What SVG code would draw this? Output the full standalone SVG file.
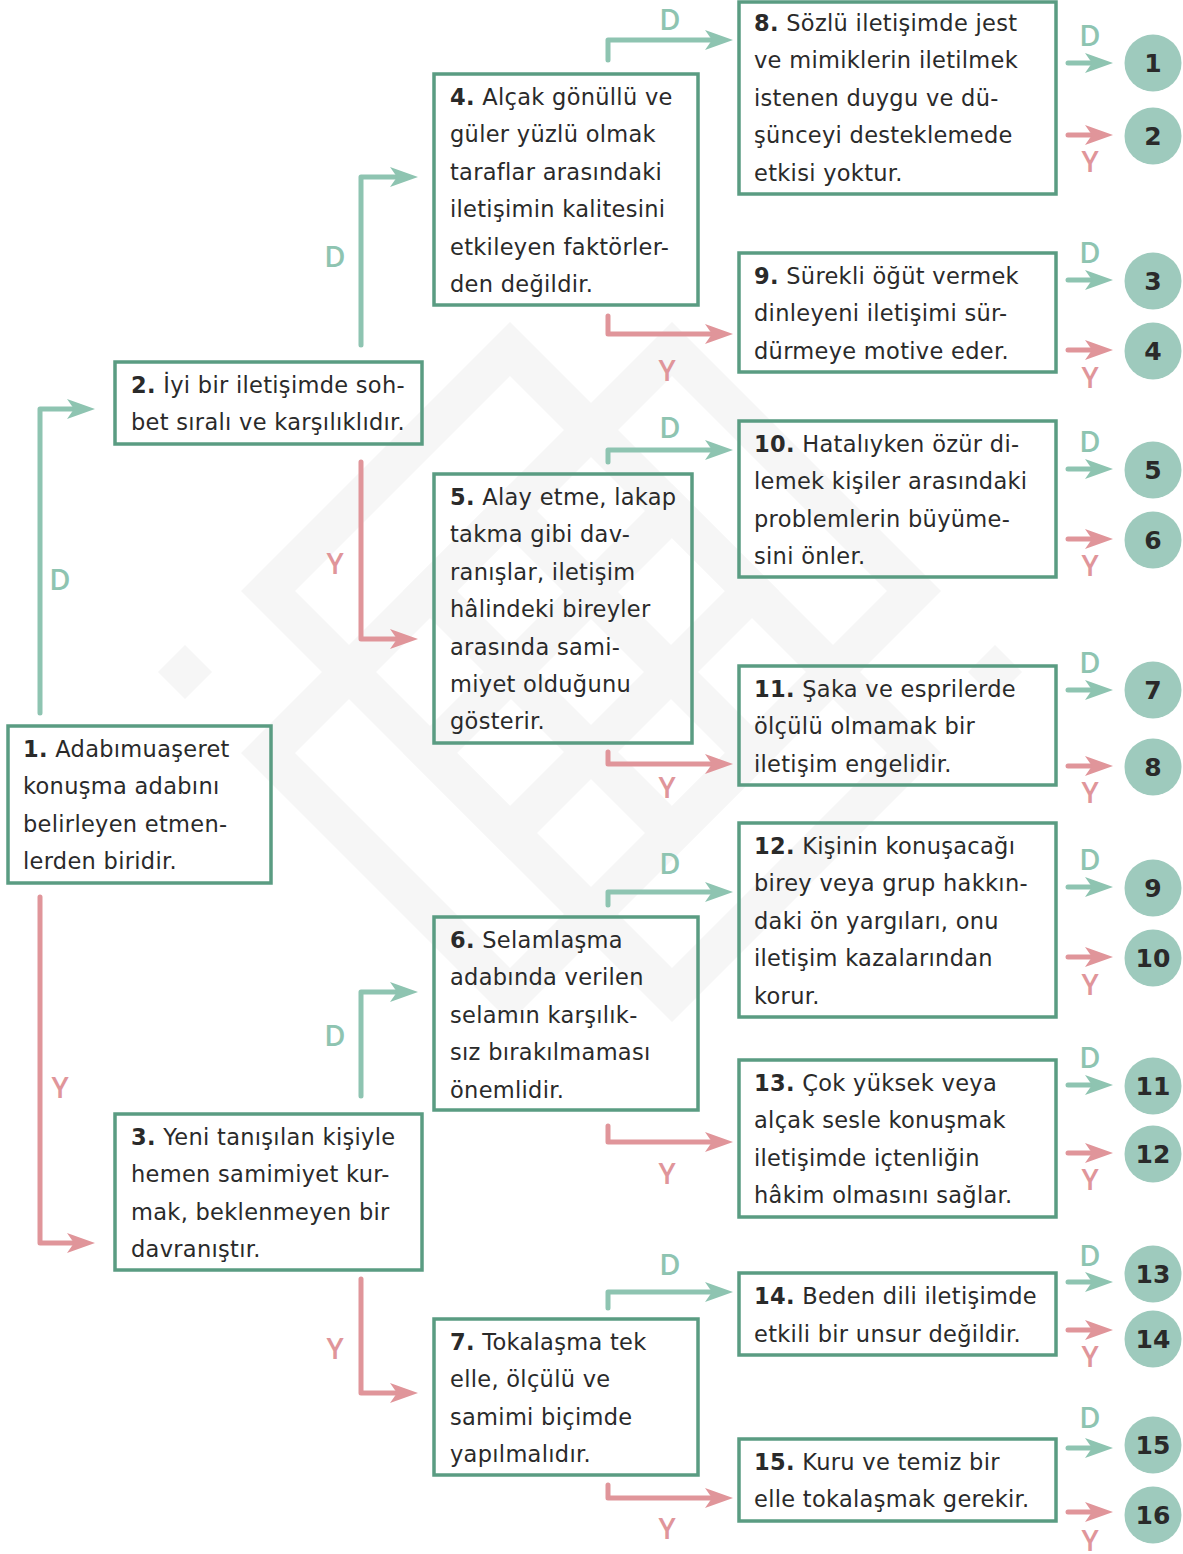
<svg xmlns="http://www.w3.org/2000/svg" width="1183" height="1554" viewBox="0 0 1183 1554">
<defs>
<style>
.wm{fill:#f6f6f6;fill-rule:evenodd}
.box{fill:none;stroke:#5a9c82;stroke-width:3.5}
.t{font-family:"DejaVu Sans",sans-serif;font-size:22.5px;letter-spacing:0.3px;fill:#2a2a2a}
.t tspan.b{font-weight:bold}
.cd{fill:none;stroke:#8ec4b1;stroke-width:5;stroke-linecap:round;stroke-linejoin:round;marker-end:url(#ad)}
.cy{fill:none;stroke:#e0959a;stroke-width:5;stroke-linecap:round;stroke-linejoin:round;marker-end:url(#ay)}
.ld{font-family:"Open Sans",sans-serif;font-size:29px;font-weight:600;fill:#8ec4b1;text-anchor:middle}
.ly{font-family:"Open Sans",sans-serif;font-size:29px;font-weight:600;fill:#e0959a;text-anchor:middle}
.c{fill:#9ecabd}
.n{font-family:"DejaVu Sans",sans-serif;font-size:25px;font-weight:bold;fill:#2a2a2a;text-anchor:middle}
</style>
<marker id="ad" markerUnits="userSpaceOnUse" viewBox="0 0 28 20" markerWidth="28" markerHeight="20" refX="8" refY="10" orient="auto"><path d="M0,0 L28,10 L0,20 L7,10 Z" fill="#8ec4b1"/></marker>
<marker id="ay" markerUnits="userSpaceOnUse" viewBox="0 0 28 20" markerWidth="28" markerHeight="20" refX="8" refY="10" orient="auto"><path d="M0,0 L28,10 L0,20 L7,10 Z" fill="#e0959a"/></marker>
</defs>
<rect width="1183" height="1554" fill="#ffffff"/>
<g id="watermark">
<path class="wm" d="M241,591 L510,322 L779,591 L510,860 Z M295,591 L510,806 L725,591 L510,376 Z"/>
<path class="wm" d="M403,591 L672,322 L941,591 L672,860 Z M457,591 L672,806 L887,591 L672,376 Z"/>
<path class="wm" d="M241,753 L510,484 L779,753 L510,1022 Z M295,753 L510,968 L725,753 L510,538 Z"/>
<path class="wm" d="M403,753 L672,484 L941,753 L672,1022 Z M457,753 L672,968 L887,753 L672,538 Z"/>
<path class="wm" d="M158,672 L185,645 L212,672 L185,699 Z"/>
<path class="wm" d="M968,672 L995,645 L1022,672 L995,699 Z"/>
</g>
<g id="connectors">
<path class="cd" d="M40,713 V409 H75"/>
<path class="cy" d="M40,897 V1243 H75"/>
<path class="cd" d="M361,345 V177 H398"/>
<path class="cy" d="M361,462 V639 H398"/>
<path class="cd" d="M361,1096 V992 H398"/>
<path class="cy" d="M361,1279 V1393 H398"/>
<path class="cd" d="M608,60 V40 H713"/>
<path class="cy" d="M608,316 V334 H713"/>
<path class="cd" d="M608,462 V450 H713"/>
<path class="cy" d="M608,752 V764 H713"/>
<path class="cd" d="M608,905 V892 H713"/>
<path class="cy" d="M608,1126 V1142 H713"/>
<path class="cd" d="M608,1308 V1292 H713"/>
<path class="cy" d="M608,1485 V1498 H713"/>
<path class="cd" d="M1068,63 H1093"/>
<path class="cy" d="M1068,135 H1093"/>
<path class="cd" d="M1068,280 H1093"/>
<path class="cy" d="M1068,350 H1093"/>
<path class="cd" d="M1068,469 H1093"/>
<path class="cy" d="M1068,539 H1093"/>
<path class="cd" d="M1068,690 H1093"/>
<path class="cy" d="M1068,766 H1093"/>
<path class="cd" d="M1068,887 H1093"/>
<path class="cy" d="M1068,957 H1093"/>
<path class="cd" d="M1068,1085 H1093"/>
<path class="cy" d="M1068,1153 H1093"/>
<path class="cd" d="M1068,1282 H1093"/>
<path class="cy" d="M1068,1330 H1093"/>
<path class="cd" d="M1068,1448 H1093"/>
<path class="cy" d="M1068,1512 H1093"/>
<text class="ld" x="60" y="590">D</text>
<text class="ly" x="60" y="1098">Y</text>
<text class="ld" x="335" y="267">D</text>
<text class="ly" x="335" y="574">Y</text>
<text class="ld" x="335" y="1046">D</text>
<text class="ly" x="335" y="1359">Y</text>
<text class="ld" x="670" y="30">D</text>
<text class="ly" x="667" y="381">Y</text>
<text class="ld" x="670" y="438">D</text>
<text class="ly" x="667" y="798">Y</text>
<text class="ld" x="670" y="874">D</text>
<text class="ly" x="667" y="1184">Y</text>
<text class="ld" x="670" y="1275">D</text>
<text class="ly" x="667" y="1539">Y</text>
<text class="ld" x="1090" y="46">D</text>
<text class="ly" x="1090" y="172">Y</text>
<text class="ld" x="1090" y="263">D</text>
<text class="ly" x="1090" y="388">Y</text>
<text class="ld" x="1090" y="452">D</text>
<text class="ly" x="1090" y="576">Y</text>
<text class="ld" x="1090" y="673">D</text>
<text class="ly" x="1090" y="803">Y</text>
<text class="ld" x="1090" y="870">D</text>
<text class="ly" x="1090" y="995">Y</text>
<text class="ld" x="1090" y="1068">D</text>
<text class="ly" x="1090" y="1190">Y</text>
<text class="ld" x="1090" y="1266">D</text>
<text class="ly" x="1090" y="1367">Y</text>
<text class="ld" x="1090" y="1428">D</text>
<text class="ly" x="1090" y="1551">Y</text>
</g>
<g id="node1"><rect class="box" x="8" y="726" width="263" height="157"/>
<text class="t" x="23" y="757"><tspan class="b">1.</tspan> Adabımuaşeret<tspan x="23" dy="37.4">konuşma adabını</tspan><tspan x="23" dy="37.4">belirleyen etmen-</tspan><tspan x="23" dy="37.4">lerden biridir.</tspan></text></g>
<g id="node2"><rect class="box" x="115" y="362" width="307" height="82"/>
<text class="t" x="131" y="393"><tspan class="b">2.</tspan> İyi bir iletişimde soh-<tspan x="131" dy="37.4">bet sıralı ve karşılıklıdır.</tspan></text></g>
<g id="node3"><rect class="box" x="115" y="1114" width="307" height="156"/>
<text class="t" x="131" y="1145"><tspan class="b">3.</tspan> Yeni tanışılan kişiyle<tspan x="131" dy="37.4">hemen samimiyet kur-</tspan><tspan x="131" dy="37.4">mak, beklenmeyen bir</tspan><tspan x="131" dy="37.4">davranıştır.</tspan></text></g>
<g id="node4"><rect class="box" x="434" y="74" width="264" height="231"/>
<text class="t" x="450" y="105"><tspan class="b">4.</tspan> Alçak gönüllü ve<tspan x="450" dy="37.4">güler yüzlü olmak</tspan><tspan x="450" dy="37.4">taraflar arasındaki</tspan><tspan x="450" dy="37.4">iletişimin kalitesini</tspan><tspan x="450" dy="37.4">etkileyen faktörler-</tspan><tspan x="450" dy="37.4">den değildir.</tspan></text></g>
<g id="node5"><rect class="box" x="434" y="474" width="258" height="269"/>
<text class="t" x="450" y="505"><tspan class="b">5.</tspan> Alay etme, lakap<tspan x="450" dy="37.4">takma gibi dav-</tspan><tspan x="450" dy="37.4">ranışlar, iletişim</tspan><tspan x="450" dy="37.4">hâlindeki bireyler</tspan><tspan x="450" dy="37.4">arasında sami-</tspan><tspan x="450" dy="37.4">miyet olduğunu</tspan><tspan x="450" dy="37.4">gösterir.</tspan></text></g>
<g id="node6"><rect class="box" x="434" y="917" width="264" height="193"/>
<text class="t" x="450" y="948"><tspan class="b">6.</tspan> Selamlaşma<tspan x="450" dy="37.4">adabında verilen</tspan><tspan x="450" dy="37.4">selamın karşılık-</tspan><tspan x="450" dy="37.4">sız bırakılmaması</tspan><tspan x="450" dy="37.4">önemlidir.</tspan></text></g>
<g id="node7"><rect class="box" x="434" y="1319" width="264" height="156"/>
<text class="t" x="450" y="1350"><tspan class="b">7.</tspan> Tokalaşma tek<tspan x="450" dy="37.4">elle, ölçülü ve</tspan><tspan x="450" dy="37.4">samimi biçimde</tspan><tspan x="450" dy="37.4">yapılmalıdır.</tspan></text></g>
<g id="node8"><rect class="box" x="739" y="2" width="317" height="192"/>
<text class="t" x="754" y="31"><tspan class="b">8.</tspan> Sözlü iletişimde jest<tspan x="754" dy="37.4">ve mimiklerin iletilmek</tspan><tspan x="754" dy="37.4">istenen duygu ve dü-</tspan><tspan x="754" dy="37.4">şünceyi desteklemede</tspan><tspan x="754" dy="37.4">etkisi yoktur.</tspan></text></g>
<g id="node9"><rect class="box" x="739" y="253" width="317" height="119"/>
<text class="t" x="754" y="284"><tspan class="b">9.</tspan> Sürekli öğüt vermek<tspan x="754" dy="37.4">dinleyeni iletişimi sür-</tspan><tspan x="754" dy="37.4">dürmeye motive eder.</tspan></text></g>
<g id="node10"><rect class="box" x="739" y="421" width="317" height="156"/>
<text class="t" x="754" y="452"><tspan class="b">10.</tspan> Hatalıyken özür di-<tspan x="754" dy="37.4">lemek kişiler arasındaki</tspan><tspan x="754" dy="37.4">problemlerin büyüme-</tspan><tspan x="754" dy="37.4">sini önler.</tspan></text></g>
<g id="node11"><rect class="box" x="739" y="666" width="317" height="119"/>
<text class="t" x="754" y="697"><tspan class="b">11.</tspan> Şaka ve esprilerde<tspan x="754" dy="37.4">ölçülü olmamak bir</tspan><tspan x="754" dy="37.4">iletişim engelidir.</tspan></text></g>
<g id="node12"><rect class="box" x="739" y="823" width="317" height="194"/>
<text class="t" x="754" y="854"><tspan class="b">12.</tspan> Kişinin konuşacağı<tspan x="754" dy="37.4">birey veya grup hakkın-</tspan><tspan x="754" dy="37.4">daki ön yargıları, onu</tspan><tspan x="754" dy="37.4">iletişim kazalarından</tspan><tspan x="754" dy="37.4">korur.</tspan></text></g>
<g id="node13"><rect class="box" x="739" y="1060" width="317" height="157"/>
<text class="t" x="754" y="1091"><tspan class="b">13.</tspan> Çok yüksek veya<tspan x="754" dy="37.4">alçak sesle konuşmak</tspan><tspan x="754" dy="37.4">iletişimde içtenliğin</tspan><tspan x="754" dy="37.4">hâkim olmasını sağlar.</tspan></text></g>
<g id="node14"><rect class="box" x="739" y="1273" width="317" height="82"/>
<text class="t" x="754" y="1304"><tspan class="b">14.</tspan> Beden dili iletişimde<tspan x="754" dy="37.8">etkili bir unsur değildir.</tspan></text></g>
<g id="node15"><rect class="box" x="739" y="1439" width="317" height="82"/>
<text class="t" x="754" y="1470"><tspan class="b">15.</tspan> Kuru ve temiz bir<tspan x="754" dy="37.4">elle tokalaşmak gerekir.</tspan></text></g>
<g id="r1"><circle class="c" cx="1153" cy="63" r="28.5"/><text class="n" x="1153" y="72">1</text></g>
<g id="r2"><circle class="c" cx="1153" cy="136" r="28.5"/><text class="n" x="1153" y="145">2</text></g>
<g id="r3"><circle class="c" cx="1153" cy="281" r="28.5"/><text class="n" x="1153" y="290">3</text></g>
<g id="r4"><circle class="c" cx="1153" cy="351" r="28.5"/><text class="n" x="1153" y="360">4</text></g>
<g id="r5"><circle class="c" cx="1153" cy="470" r="28.5"/><text class="n" x="1153" y="479">5</text></g>
<g id="r6"><circle class="c" cx="1153" cy="540" r="28.5"/><text class="n" x="1153" y="549">6</text></g>
<g id="r7"><circle class="c" cx="1153" cy="690" r="28.5"/><text class="n" x="1153" y="699">7</text></g>
<g id="r8"><circle class="c" cx="1153" cy="767" r="28.5"/><text class="n" x="1153" y="776">8</text></g>
<g id="r9"><circle class="c" cx="1153" cy="888" r="28.5"/><text class="n" x="1153" y="897">9</text></g>
<g id="r10"><circle class="c" cx="1153" cy="958" r="28.5"/><text class="n" x="1153" y="967">10</text></g>
<g id="r11"><circle class="c" cx="1153" cy="1086" r="28.5"/><text class="n" x="1153" y="1095">11</text></g>
<g id="r12"><circle class="c" cx="1153" cy="1154" r="28.5"/><text class="n" x="1153" y="1163">12</text></g>
<g id="r13"><circle class="c" cx="1153" cy="1274" r="28.5"/><text class="n" x="1153" y="1283">13</text></g>
<g id="r14"><circle class="c" cx="1153" cy="1339" r="28.5"/><text class="n" x="1153" y="1348">14</text></g>
<g id="r15"><circle class="c" cx="1153" cy="1445" r="28.5"/><text class="n" x="1153" y="1454">15</text></g>
<g id="r16"><circle class="c" cx="1153" cy="1515" r="28.5"/><text class="n" x="1153" y="1524">16</text></g>
</svg>
